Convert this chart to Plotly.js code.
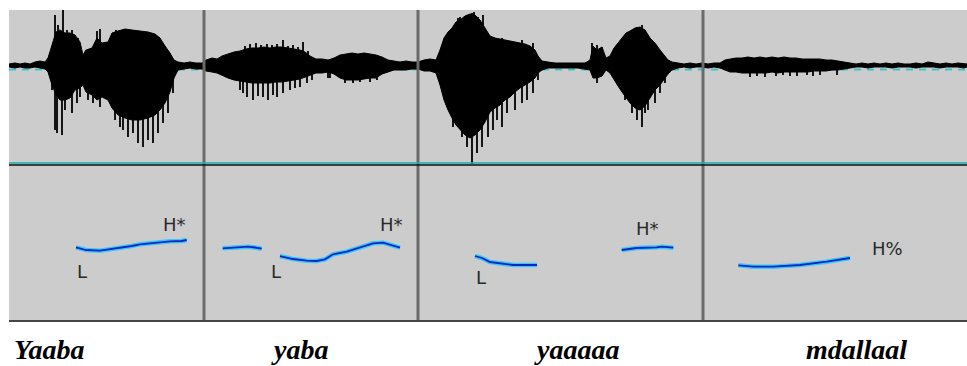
<!DOCTYPE html>
<html>
<head>
<meta charset="utf-8">
<script src="https://cdn.plot.ly/plotly-3.0.1.min.js"></script>
<style>html,body{margin:0;padding:0;background:#fff;}#chart{width:967px;height:366px;}</style>
</head>
<body>
<div id="chart"></div>
<script>
// ---- DATA (time in frames of 2.5 ms, amplitude in arbitrary units, F0 in Hz) ----
// waveform body envelope: [time, upper amplitude, lower amplitude]
const waveEnvelope = [
  [0,2,-1],[6,3,-2],[11,2,-1],[16,3,-2],[21,2,-2],[26,4,-1],[31,5,-2],[36,4,-3],[39,8,-6],[43,21,-19],
  [47,34,-29],[51,36,-34],[56,33,-34],[61,33,-32],[66,31,-24],[71,24,-22],[74,11,-19],[77,16,-26],[83,18,-29],[88,28,-34],
  [93,23,-31],[99,24,-34],[103,33,-42],[109,35,-49],[116,37,-52],[123,36,-54],[131,35,-54],[139,34,-52],[146,32,-49],[151,28,-44],
  [156,20,-37],[161,13,-26],[165,6,-12],[169,4,-4],[175,3,-3],[181,4,-2],[187,3,-3],[193,3,-3],[197,6,-5],[203,8,-6],
  [208,7,-7],[213,10,-9],[219,12,-12],[225,14,-14],[231,15,-15],[237,17,-16],[243,18,-17],[249,18,-17],[255,19,-17],[261,18,-17],
  [267,19,-16],[273,19,-16],[279,18,-15],[285,17,-14],[291,16,-13],[296,14,-11],[301,10,-9],[307,7,-7],[313,7,-7],[319,6,-6],
  [325,8,-8],[331,11,-12],[337,12,-14],[343,13,-14],[349,12,-14],[355,13,-13],[361,12,-12],[367,11,-12],[373,9,-8],[379,6,-6],
  [385,5,-4],[391,4,-4],[397,5,-4],[403,4,-3],[409,4,-3],[415,6,-5],[421,7,-5],[427,6,-7],[431,16,-19],[435,28,-34],
  [439,34,-44],[443,38,-52],[447,44,-59],[451,46,-64],[456,50,-69],[461,52,-72],[466,51,-69],[471,46,-64],[476,38,-56],[481,30,-46],
  [486,28,-42],[491,27,-39],[496,26,-34],[501,25,-31],[506,24,-26],[511,23,-22],[516,22,-19],[521,20,-16],[526,16,-12],[529,10,-7],
  [533,5,-4],[539,4,-2],[546,3,-2],[553,3,-2],[561,3,-2],[569,3,-2],[576,3,-3],[581,6,-4],[584,20,-12],[588,16,-12],
  [593,19,-10],[597,8,-4],[601,10,-7],[605,18,-14],[609,23,-20],[613,28,-26],[617,33,-32],[621,35,-37],[626,38,-42],[631,39,-44],
  [636,36,-40],[641,28,-32],[646,23,-24],[651,16,-19],[655,11,-14],[659,6,-8],[663,4,-4],[669,3,-2],[675,2,-1],[681,3,-2],
  [687,2,-1],[693,3,-1],[699,2,-2],[705,3,-1],[711,3,-2],[716,6,-4],[721,7,-6],[727,8,-6],[733,8,-7],[739,9,-7],
  [745,8,-7],[751,9,-7],[757,8,-7],[763,9,-6],[769,8,-7],[775,9,-6],[781,8,-6],[787,8,-6],[793,7,-6],[799,7,-6],
  [805,7,-5],[811,7,-5],[817,6,-5],[823,6,-4],[829,5,-4],[835,4,-3],[841,3,-2],[847,2,-1],[853,3,-1],[859,2,-2],
  [865,3,-1],[871,2,-1],[877,3,-1],[883,2,-2],[889,3,-1],[895,2,-1],[901,2,-1],[907,3,-2],[913,2,-1],[919,4,-1],
  [925,3,-1],[931,2,-2],[937,3,-1],[943,2,-1],[949,3,-1],[955,2,-2],[958,2,-1]
];
// glottal-pulse peaks: [time, peak amplitude]
const wavePeaks = [
  [43,-24],[46,-64],[48,-67],[53,-69],[56,-44],[63,-47],[68,-37],[71,-31],[79,-34],[84,-37],[91,-41],[101,-34],
  [106,-54],[111,-61],[114,-64],[119,-71],[124,-67],[129,-77],[134,-81],[139,-74],[144,-77],[149,-67],[154,-57],[159,-47],[164,-27],
  [46,51],[49,41],[54,56],[58,36],[63,36],[69,28],[88,35],[91,37],[104,33],[107,36],
  [231,-24],[234,-27],[238,-31],[244,-34],[249,-30],[254,-31],[259,-34],[264,-29],[268,-31],[274,-27],[281,-24],[286,-22],
  [291,-21],[298,-17],[303,-14],[319,-12],[321,-12],[336,-17],[344,-17],[351,-16],[361,-16],[368,-14],
  [236,20],[241,22],[247,23],[252,21],[258,22],[263,21],[268,22],[274,26],[279,20],[284,21],[289,19],[294,24],[299,15],
  [334,11],[344,13],[356,13],
  [436,-34],[444,-61],[453,-71],[458,-81],[463,-99],[468,-87],[473,-81],[479,-71],[484,-64],[488,-54],[493,-61],[498,-47],
  [506,-44],[513,-37],[518,-34],[524,-27],[529,-14],
  [436,26],[443,36],[449,48],[451,49],[458,43],[463,53],[465,54],[469,49],[474,51],[479,33],[484,28],[493,28],[503,24],[513,26],[524,23],
  [588,-17],[611,-21],[616,-34],[623,-47],[628,-54],[633,-61],[636,-47],[639,-44],[646,-37],[651,-27],[656,-17],
  [583,23],[588,21],[593,19],[613,23],[619,33],[623,36],[628,39],[633,41],[636,36],
  [741,-11],[748,-10],[756,-11],[767,-10],[774,-9],[781,-10],[788,-10],[798,-9],[804,-10],[811,-9],[828,-9],
  [738,9],[774,7]
];
// F0 contours: [time, Hz]
const f0Yaaba    = [[67,152.7],[77,150],[91,149.3],[101,150.7],[111,151.7],[122.7,154],[131,155.7],[141,156.7],[151,158],[161,158.7],[172.7,159],[177.7,160]];
const f0Yaba1    = [[213.7,151.7],[224,152.3],[239,153.3],[246,152.5],[252.7,151.3]];
const f0Yaba2    = [[271,144],[284,141],[297.7,139.3],[307.7,139],[316,140.7],[324,145.7],[337.7,148.3],[351,152.3],[364,156.7],[374,157.3],[381,155],[391,152.3]];
const f0Yaaaaa1  = [[466,144],[473,142],[481,138],[491,136.5],[504,135],[528,135]];
const f0Yaaaaa2  = [[612.7,150],[627.7,152],[647.7,152.7],[652.7,153.3],[664.3,152.3]];
const f0Mdallaal = [[729.3,134.7],[744.3,133.3],[764.3,133.3],[791,135],[817.7,138.3],[841,142]];
// word boundaries and labels
const wordBoundaries = [195, 409, 694];
const words = ['Yaaba', 'yaba', 'yaaaaa', 'mdallaal'];
const wordStarts = [3, 260, 523, 795];
// tone labels
const tones = ['L', 'H*', 'L', 'H*', 'L', 'H*', 'H%'];
const toneTimes = [73, 165, 267, 382, 472, 638, 878];
const toneHz = [129, 176, 129, 176, 123, 172, 152];

// ---- BUILD TRACES ----
const envX = waveEnvelope.map(r => r[0]);
const envUp = waveEnvelope.map(r => r[1]);
const envLo = waveEnvelope.map(r => r[2]);
const bodyTrace = {
  x: envX.concat(envX.slice().reverse()),
  y: envUp.concat(envLo.slice().reverse()),
  xaxis: 'x', yaxis: 'y', mode: 'lines', fill: 'toself',
  fillcolor: '#000000', line: {color: '#000000', width: 1}, hoverinfo: 'skip'
};
const px = [], py = [];
wavePeaks.forEach(p => { px.push(p[0], p[0], null); py.push(0, p[1], null); });
const peakTrace = {x: px, y: py, xaxis: 'x', yaxis: 'y', mode: 'lines',
  line: {color: '#000000', width: 1.8}, hoverinfo: 'skip'};

const f0x = [], f0y = [];
[f0Yaaba, f0Yaba1, f0Yaba2, f0Yaaaaa1, f0Yaaaaa2, f0Mdallaal].forEach(seg => {
  seg.forEach(p => { f0x.push(p[0]); f0y.push(p[1]); });
  f0x.push(null); f0y.push(null);
});
const f0Glow = {x: f0x, y: f0y, xaxis: 'x', yaxis: 'y2', mode: 'lines', connectgaps: false,
  line: {color: '#3cc8f0', width: 4.5}, hoverinfo: 'skip'};
const f0Core = {x: f0x, y: f0y, xaxis: 'x', yaxis: 'y2', mode: 'lines', connectgaps: false,
  line: {color: '#0a28c8', width: 1.8}, hoverinfo: 'skip'};

// ---- LAYOUT ----
const shapes = [];
wordBoundaries.forEach(b => shapes.push({type: 'line', xref: 'x', yref: 'paper', x0: b, x1: b, y0: 0, y1: 1,
  line: {color: '#6b6b6b', width: 3}}));
shapes.push({type: 'line', xref: 'x', yref: 'y', x0: 0, x1: 958, y0: -3.5, y1: -3.5, layer: 'below',
  line: {color: '#3cc4c4', width: 2, dash: '7px,6px'}});
shapes.push({type: 'line', xref: 'x', yref: 'paper', x0: 0, x1: 958, y0: 0.5096, y1: 0.5096,
  line: {color: '#10b0b0', width: 1.5}});
shapes.push({type: 'line', xref: 'x', yref: 'paper', x0: 0, x1: 958, y0: 0.5032, y1: 0.5032,
  line: {color: '#111111', width: 1.5}});
shapes.push({type: 'line', xref: 'x', yref: 'paper', x0: 0, x1: 958, y0: 0.0035, y1: 0.0035,
  line: {color: '#454545', width: 2}});

const annotations = [];
words.forEach((w, i) => annotations.push({text: w, xref: 'x', yref: 'paper', x: wordStarts[i], y: -0.087,
  xanchor: 'left', yanchor: 'middle', showarrow: false,
  font: {family: 'Liberation Serif, Times New Roman, serif', size: 28, color: '#000', weight: 'bold', style: 'italic'}}));
tones.forEach((t, i) => annotations.push({text: t, xref: 'x', yref: 'y2', x: toneTimes[i], y: toneHz[i],
  xanchor: 'center', yanchor: 'middle', showarrow: false,
  font: {family: 'DejaVu Sans, sans-serif', size: 18, color: '#2a2a2a'}}));

const hidden = {visible: false, showgrid: false, zeroline: false, fixedrange: true};
const layout = {
  width: 967, height: 366,
  margin: {l: 9, r: 0, t: 10, b: 44, pad: 0},
  paper_bgcolor: '#ffffff', plot_bgcolor: '#cccccc',
  showlegend: false,
  xaxis: Object.assign({range: [0, 958], domain: [0, 1], anchor: 'y2'}, hidden),
  yaxis: Object.assign({range: [-98, 56], domain: [0.5064, 1]}, hidden),
  yaxis2: Object.assign({range: [78, 236], domain: [0, 0.5064]}, hidden),
  shapes: shapes,
  annotations: annotations
};

Plotly.newPlot('chart', [bodyTrace, peakTrace, f0Glow, f0Core], layout, {staticPlot: true, displayModeBar: false});
</script>
</body>
</html>
